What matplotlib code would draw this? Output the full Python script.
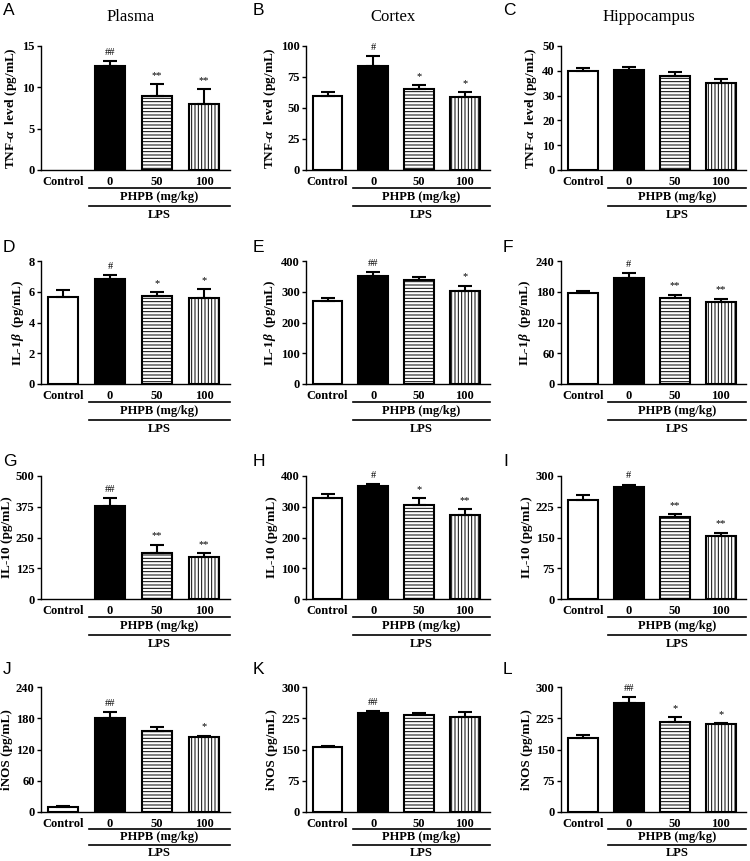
import matplotlib
matplotlib.use('Agg')
import matplotlib.pyplot as plt
from matplotlib.transforms import blended_transform_factory, ScaledTranslation

plt.rcParams['font.family'] = ['Liberation Serif', 'DejaVu Serif']
plt.rcParams['mathtext.fontset'] = 'custom'
plt.rcParams['mathtext.it'] = 'Liberation Serif:italic:bold'
plt.rcParams['mathtext.rm'] = 'Liberation Serif:bold'
plt.rcParams['mathtext.bf'] = 'Liberation Serif:bold'
plt.rcParams['hatch.linewidth'] = 0.7

groups = ['Control', '0', '50', '100']

# TNF-alpha
tnf_plasma = [0, 12.6, 8.9, 8.0]
tnf_plasma_err = [0, 0.55, 1.45, 1.8]
tnf_plasma_sig = ['', '##', '**', '**']
tnf_cortex = [59.8, 83.9, 65.4, 59.0]
tnf_cortex_err = [3.5, 8.1, 3.2, 3.5]
tnf_cortex_sig = ['', '#', '*', '*']
tnf_hippo = [40.0, 40.2, 37.9, 35.1]
tnf_hippo_err = [1.3, 1.4, 1.5, 1.5]
tnf_hippo_sig = ['', '', '', '']

# IL-1beta
il1b_plasma = [5.69, 6.81, 5.71, 5.58]
il1b_plasma_err = [0.41, 0.26, 0.28, 0.57]
il1b_plasma_sig = ['', '#', '*', '*']
il1b_cortex = [269, 351, 337, 303]
il1b_cortex_err = [10, 13, 12, 17]
il1b_cortex_sig = ['', '##', '', '*']
il1b_hippo = [178.4, 207, 168.6, 160.2]
il1b_hippo_err = [3.2, 9.6, 5.9, 6.5]
il1b_hippo_sig = ['', '#', '**', '**']

# IL-10
il10_plasma = [0, 380, 187.5, 172.6]
il10_plasma_err = [0, 29, 33.5, 13.4]
il10_plasma_sig = ['', '##', '**', '**']
il10_cortex = [327, 366, 307, 274.5]
il10_cortex_err = [16, 7, 21, 18.5]
il10_cortex_sig = ['', '#', '*', '**']
il10_hippo = [242, 273.5, 201, 154.4]
il10_hippo_err = [11, 5.5, 5.7, 7.3]
il10_hippo_sig = ['', '#', '**', '**']

# iNOS
inos_plasma = [8.9, 181.4, 154.7, 143.2]
inos_plasma_err = [3.1, 10.2, 8.9, 3.2]
inos_plasma_sig = ['', '##', '', '*']
inos_cortex = [156.5, 238, 233, 229]
inos_cortex_err = [1.5, 5, 4, 10.5]
inos_cortex_sig = ['', '##', '', '']
inos_hippo = [177, 262, 215, 211]
inos_hippo_err = [8, 14, 12, 3]
inos_hippo_sig = ['', '##', '*', '*']

titles = ['Plasma', 'Cortex', 'Hippocampus']
letters = ['A', 'B', 'C', 'D', 'E', 'F', 'G', 'H', 'I', 'J', 'K', 'L']
ylabels = [r'TNF-$\alpha$  level (pg/mL)', r'IL-1$\beta$  (pg/mL)',
           'IL-10 (pg/mL)', 'iNOS (pg/mL)']

panels = [
    [(tnf_plasma, tnf_plasma_err, tnf_plasma_sig, [0, 5, 10, 15]),
     (tnf_cortex, tnf_cortex_err, tnf_cortex_sig, [0, 25, 50, 75, 100]),
     (tnf_hippo, tnf_hippo_err, tnf_hippo_sig, [0, 10, 20, 30, 40, 50])],
    [(il1b_plasma, il1b_plasma_err, il1b_plasma_sig, [0, 2, 4, 6, 8]),
     (il1b_cortex, il1b_cortex_err, il1b_cortex_sig, [0, 100, 200, 300, 400]),
     (il1b_hippo, il1b_hippo_err, il1b_hippo_sig, [0, 60, 120, 180, 240])],
    [(il10_plasma, il10_plasma_err, il10_plasma_sig, [0, 125, 250, 375, 500]),
     (il10_cortex, il10_cortex_err, il10_cortex_sig, [0, 100, 200, 300, 400]),
     (il10_hippo, il10_hippo_err, il10_hippo_sig, [0, 75, 150, 225, 300])],
    [(inos_plasma, inos_plasma_err, inos_plasma_sig, [0, 60, 120, 180, 240]),
     (inos_cortex, inos_cortex_err, inos_cortex_sig, [0, 75, 150, 225, 300]),
     (inos_hippo, inos_hippo_err, inos_hippo_sig, [0, 75, 150, 225, 300])],
]

faces = ['white', 'black', 'white', 'white']
hatches = [None, None, '-----', '|||||']

W, H = 750, 861
fig = plt.figure(figsize=(W / 100, H / 100), dpi=100)
col_left = [41, 306, 561]
col_w = [189, 184, 185]
row_top = [46, 261, 476, 687]
row_bot = [170, 384, 599, 812]
letter_x = [3, 253, 503]
letter_top = [3, 240, 454, 662]
# offsets (pt) below axis: line1, PHPB, line2, LPS
row_off = [(13, 19.5, 26, 32.5), (13, 19.5, 26, 32.5),
           (13, 19.5, 26, 32.5), (12.5, 18.3, 24, 29.8)]

x = list(range(len(groups)))

for r in range(4):
    for c in range(3):
        vals, errs, sigs, ticks = panels[r][c]
        ax = fig.add_axes([col_left[c] / W, 1 - row_bot[r] / H,
                           col_w[c] / W, (row_bot[r] - row_top[r]) / H])
        for i in x:
            if vals[i] <= 0:
                continue
            ax.bar(i, vals[i], width=0.65, color=faces[i], edgecolor='black',
                   linewidth=1.5, hatch=hatches[i], zorder=2)
            if errs[i] > 0:
                ax.errorbar(i, vals[i], yerr=[[0], [errs[i]]], fmt='none',
                            ecolor='black', elinewidth=1.5, capsize=5,
                            capthick=1.5, zorder=3)
            if sigs[i]:
                ax.annotate(sigs[i], (i, vals[i] + errs[i]), xytext=(0, 3),
                            textcoords='offset points', ha='center', va='bottom',
                            fontsize=7.5)
        ax.set_xlim(-0.47, 3.55)
        ax.set_ylim(0, ticks[-1])
        ax.set_yticks(ticks)
        ax.set_xticks(x)
        ax.set_xticklabels(groups, fontsize=9, fontweight='bold')
        ax.tick_params(axis='x', length=0, pad=4)
        ax.tick_params(axis='y', length=3, width=1, labelsize=9, pad=1.5)
        for lab in ax.get_yticklabels():
            lab.set_fontweight('bold')
        for s in ['top', 'right']:
            ax.spines[s].set_visible(False)
        for s in ['left', 'bottom']:
            ax.spines[s].set_linewidth(1)
        ax.set_ylabel(ylabels[r], fontsize=9.5, fontweight='bold', labelpad=2)

        base = blended_transform_factory(ax.transData, ax.transAxes)

        def off(dy):
            return base + ScaledTranslation(0, -dy / 72, fig.dpi_scale_trans)

        l1, tp, l2, tl = row_off[r]
        ax.plot([0.55, 3.55], [0, 0], color='black', lw=1.2, clip_on=False,
                transform=off(l1))
        ax.text(2.05, 0, 'PHPB (mg/kg)', transform=off(tp), ha='center',
                va='center', fontsize=9, fontweight='bold')
        ax.plot([0.55, 3.55], [0, 0], color='black', lw=1.2, clip_on=False,
                transform=off(l2))
        ax.text(2.05, 0, 'LPS', transform=off(tl), ha='center',
                va='center', fontsize=9, fontweight='bold')

        # panel letter
        fig.text(letter_x[c] / W, 1 - letter_top[r] / H,
                 letters[r * 3 + c], fontsize=12.5, family='Liberation Sans',
                 ha='left', va='top')

for c in range(3):
    fig.text((col_left[c] + col_w[c] / 2 - 5) / W, 1 - 17 / H, titles[c],
             fontsize=12, ha='center', va='center')

fig.savefig('out.png', dpi=100)
